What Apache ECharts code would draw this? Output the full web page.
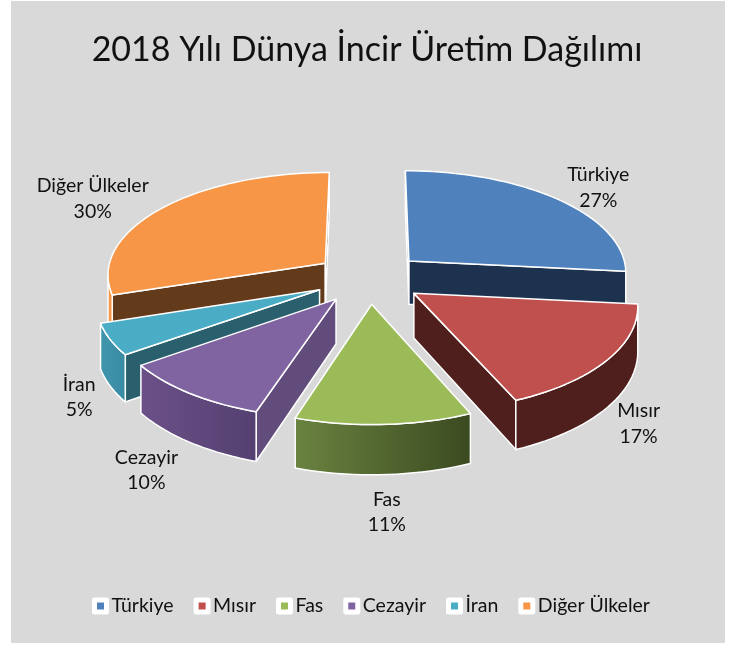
<!DOCTYPE html>
<html><head><meta charset="utf-8">
<style>html,body{margin:0;padding:0;background:#fff}#c{width:733px;height:646px}</style>
<script src="https://cdn.jsdelivr.net/npm/echarts@6/dist/echarts.min.js"></script>
</head><body><div id="c"></div>
<script>
const titleText = '2018 Yılı Dünya İncir Üretim Dağılımı';
const categories = ['Türkiye', 'Mısır', 'Fas', 'Cezayir', 'İran', 'Diğer Ülkeler'];
const shares = [26.6, 16.9, 11.49, 10.1, 4.91, 30];

const topColors = ['#4F81BD', '#C0504D', '#9BBB59', '#8064A2', '#4BACC6', '#F79646'];
const radialWall = ['#1D324E', '#4E1F1D', '#5C7335', '#614C7C', '#2A5F6E', '#633A1A'];
const outerWallL = ['#1D324E', '#4E1F1D', '#6A8340', '#6B5088', '#4096AE', '#F79646'];
const outerWallR = ['#1D324E', '#4E1F1D', '#3B4A20', '#544070', '#3A8BA2', '#F79646'];
const paintOrder = [0, 5, 4, 1, 3, 2];
const labelNudge = [[42, -11], [31, 64], [3, 88], [-43, 77], [-31, 58], [-70, -9]];

const FONT = 'Lato, Carlito, "Open Sans", sans-serif';
const view = { cx: 369, cy: 278, a: 219, b: 102.6, k: 0.1, h: 44, explode: 0.25 };
const rad = d => d * Math.PI / 180;
const total = shares.reduce((s, v) => s + v, 0);
const starts = shares.map((_, i) => shares.slice(0, i).reduce((s, v) => s + v, 0) / total * 360);

function project(X, Y, drop) {
  const s = 1 / (1 + view.k * Y);
  return [view.cx + view.a * X * s, view.cy - view.b * Y * s + (drop ? view.h * s : 0)];
}
function area(p) {
  let t = 0;
  for (let i = 0; i < p.length; i++) {
    const q = p[(i + 1) % p.length];
    t += p[i][0] * q[1] - q[0] * p[i][1];
  }
  return t / 2;
}
const poly = (points, fill) => ({
  type: 'polygon', shape: { points },
  style: { fill, stroke: '#fff', lineWidth: 1.5, lineJoin: 'round' }
});

function buildSlice(i, value) {
  const sweep = value / total * 360, t0 = starts[i], mid = t0 + sweep / 2;
  const ox = view.explode * Math.sin(rad(mid)), oy = view.explode * Math.cos(rad(mid));
  const rim = t => [ox + Math.sin(rad(t)), oy + Math.cos(rad(t))];
  const n = Math.max(6, Math.round(sweep / 2));
  const ring = [];
  for (let j = 0; j <= n; j++) ring.push(rim(t0 + sweep * j / n));
  const apexTop = project(ox, oy, 0), apexBot = project(ox, oy, 1);
  const topPts = ring.map(r => project(r[0], r[1], 0));
  const botPts = ring.map(r => project(r[0], r[1], 1));
  const children = [];
  [[topPts[0], botPts[0], apexBot, apexTop], [apexTop, apexBot, botPts[n], topPts[n]]].forEach(q => {
    if (area(q) < 0) children.push(poly(q, radialWall[i]));
  });
  const vis = [];
  for (let j = 0; j < n; j++) {
    const q = [topPts[j + 1], botPts[j + 1], botPts[j], topPts[j]];
    if (area(q) < 0) vis.push(j);
  }
  if (vis.length) {
    const lo = vis[0], hi = vis[vis.length - 1] + 1;
    const pts = topPts.slice(lo, hi + 1).concat(botPts.slice(lo, hi + 1).reverse());
    children.push(poly(pts, new echarts.graphic.LinearGradient(0, 0, 1, 0, [
      { offset: 0, color: outerWallL[i] }, { offset: 1, color: outerWallR[i] }
    ])));
  }
  children.push(poly([apexTop].concat(topPts), topColors[i]));
  const lab = rim(mid), lp = project(lab[0], lab[1], 0);
  children.push({
    type: 'text', z2: 50,
    x: lp[0] + labelNudge[i][0], y: lp[1] + labelNudge[i][1],
    style: {
      text: categories[i] + '\n' + Math.round(value) + '%', fill: '#111', font: '19.5px ' + FONT,
      align: 'center', verticalAlign: 'middle', lineHeight: 25.5
    }
  });
  return { type: 'group', children };
}

const chart = echarts.init(document.getElementById('c'));
chart.setOption({
  animation: false,
  backgroundColor: '#fff',
  graphic: [{ type: 'rect', z: -10, silent: true, shape: { x: 11, y: 1, width: 714, height: 642 }, style: { fill: '#D9D9D9' } }],
  title: {
    text: titleText, left: 362, top: 28, textAlign: 'center',
    textStyle: { fontFamily: FONT, fontSize: 34, fontWeight: 'normal', color: '#111' }
  },
  legend: {
    left: 87, top: 591, icon: 'rect', itemWidth: 12, itemHeight: 12, itemGap: 20,
    data: categories,
    itemStyle: { borderColor: '#fff', borderWidth: 5, borderJoin: 'round' },
    textStyle: { fontFamily: FONT, fontSize: 19.5, color: '#111' }
  },
  series: paintOrder.map((i, order) => ({
    type: 'custom', name: categories[i], coordinateSystem: 'none', z: 2 + order,
    itemStyle: { color: topColors[i] },
    data: [{ name: categories[i], value: [shares[i]] }],
    renderItem: (params, api) => buildSlice(i, api.value(0))
  }))
});
</script></body></html>
